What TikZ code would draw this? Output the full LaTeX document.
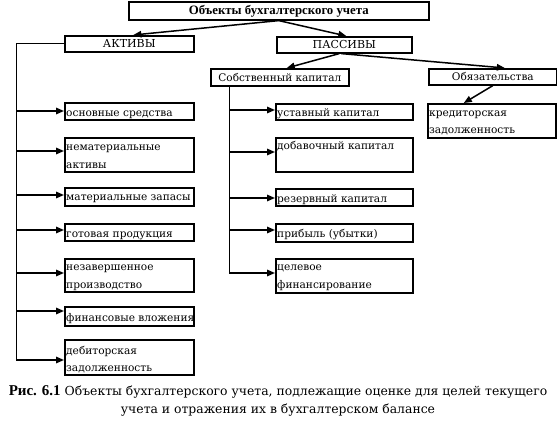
\documentclass[tikz,border=0pt]{standalone}
\usepackage{fontspec}
\setmainfont{DejaVu Serif}
\newfontfamily\tnr{Liberation Serif}
\usetikzlibrary{arrows.meta}
\begin{document}
\begin{tikzpicture}[x=1pt,y=-1pt,
  box/.style={draw, line width=1.6pt, inner sep=0pt, anchor=north west, font=\fontsize{10.5}{12}\selectfont},
  txt/.style={anchor=base west, inner sep=0pt, font=\fontsize{10.6}{12}\selectfont},
  arr/.style={line width=1.5pt, -{Triangle[length=8pt,width=6.5pt]}},
  thinline/.style={line width=0.8pt},
  captxt/.style={anchor=base, inner sep=0pt, font=\fontsize{12.4}{14}\selectfont}]
\useasboundingbox (0,0) rectangle (557,426);
% top level
\node[box, minimum width=300pt, minimum height=18pt] (top) at (128,1)
  {\tnr\bfseries\fontsize{12.8}{14}\selectfont Объекты бухгалтерского учета};
\node[box, minimum width=129pt, minimum height=16pt, font=\fontsize{11}{13}\selectfont] (ak) at (64,35) {АКТИВЫ};
\node[box, minimum width=135pt, minimum height=16pt, font=\fontsize{11}{13}\selectfont] (pas) at (276,36) {ПАССИВЫ};
\node[box, minimum width=138pt, minimum height=17pt] (sk) at (210,68) {Собственный капитал};
\node[box, minimum width=128pt, minimum height=16pt] (ob) at (428,68) {Обязательства};
\draw[arr] (top.south) -- ([xshift=4pt]ak.north);
\draw[arr] (top.south) -- ([xshift=2pt]pas.north);
\draw[arr] ([xshift=-5pt]pas.south) -- ([xshift=7pt]sk.north);
\draw[arr] ([xshift=-3pt]pas.south) -- ([xshift=12pt]ob.north);
% left column boxes
\node[box, minimum width=129pt, minimum height=17pt] (a1) at (64,102) {};
\node[box, minimum width=129pt, minimum height=34pt] (a2) at (64,137) {};
\node[box, minimum width=129pt, minimum height=18pt] (a3) at (64,187) {};
\node[box, minimum width=129pt, minimum height=17pt] (a4) at (64,223) {};
\node[box, minimum width=129pt, minimum height=33pt] (a5) at (64,258) {};
\node[box, minimum width=129pt, minimum height=19pt] (a6) at (64,306) {};
\node[box, minimum width=129pt, minimum height=35pt] (a7) at (64,339) {};
\node[txt] (ta1) at (66,116) {основные средства};
\node[txt] (ta2a) at (66,150) {нематериальные};
\node[txt] (ta2b) at (66,168) {активы};
\node[txt] (ta3) at (66,200) {материальные запасы};
\node[txt] (ta4) at (66,237) {готовая продукция};
\node[txt] (ta5a) at (66,270) {незавершенное};
\node[txt] (ta5b) at (66,288) {производство};
\node[txt] (ta6) at (66,321) {финансовые вложения};
\node[txt] (ta7a) at (66,354) {дебиторская};
\node[txt] (ta7b) at (66,371) {задолженность};
% left trunk
\coordinate (lb) at (16,361);
\draw[thinline] (ak.west) -| (lb);
\foreach \n/\y in {1/111,2/151,3/195,4/230,5/273,6/311,7/360}{
  \coordinate (la\n) at (16,\y);
  \draw[arr] (la\n) -- (la\n -| a\n.west);
}
% middle column boxes
\node[box, minimum width=137pt, minimum height=16pt] (m1) at (275,103) {};
\node[box, minimum width=137pt, minimum height=34pt] (m2) at (275,137) {};
\node[box, minimum width=137pt, minimum height=17pt] (m3) at (275,188) {};
\node[box, minimum width=137pt, minimum height=18pt] (m4) at (275,223) {};
\node[box, minimum width=137pt, minimum height=34pt] (m5) at (275,258) {};
\node[txt] (tm1) at (277,116) {уставный капитал};
\node[txt] (tm2) at (277,149) {добавочный капитал};
\node[txt] (tm3) at (277,202) {резервный капитал};
\node[txt] (tm4) at (277,237) {прибыль (убытки)};
\node[txt] (tm5a) at (277,270) {целевое};
\node[txt] (tm5b) at (277,288) {финансирование};
\coordinate (mb) at (229,273);
\draw[thinline] (mb |- sk.south) -- (mb);
\foreach \n/\y in {1/110,2/152,3/198,4/230,5/273}{
  \coordinate (lm\n) at (229,\y);
  \draw[arr] (lm\n) -- (lm\n -| m\n.west);
}
% right column
\node[box, minimum width=128pt, minimum height=34pt] (r1) at (427,103) {};
\node[txt] (tr1a) at (429,116) {кредиторская};
\node[txt] (tr1b) at (429,133) {задолженность};
\draw[arr] (ob.south) -- ([xshift=-28pt]r1.north);
% caption
\node[captxt] (c1) at (278,395) {{\tnr\bfseries\fontsize{15}{16}\selectfont Рис. 6.1} Объекты бухгалтерского учета, подлежащие оценке для целей текущего};
\node[captxt] (c2) at (278,413) {учета и отражения их в бухгалтерском балансе};
\end{tikzpicture}
\end{document}
